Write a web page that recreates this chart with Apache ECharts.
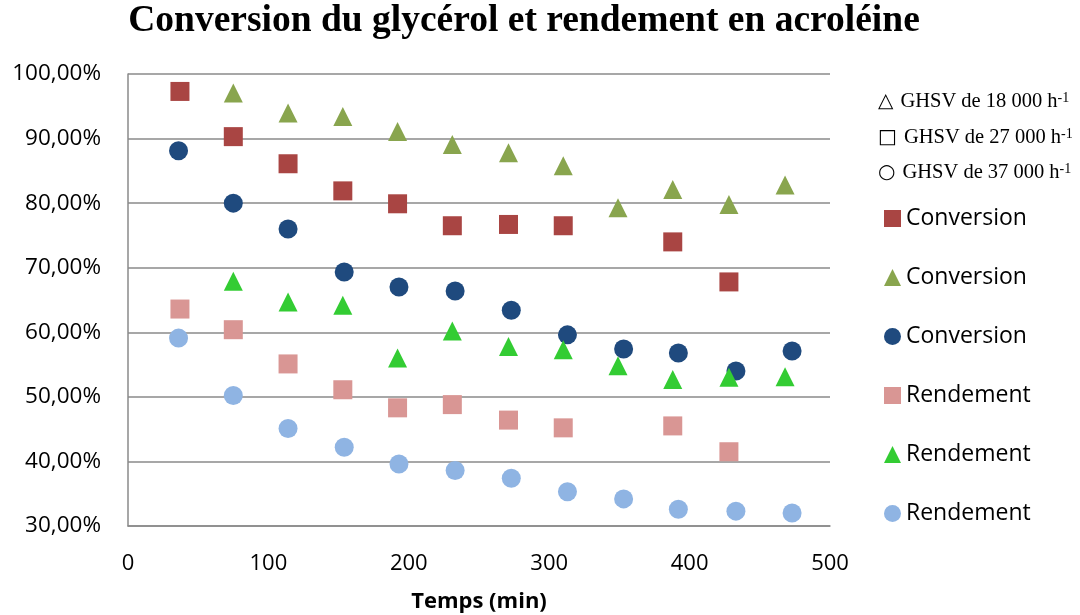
<!DOCTYPE html>
<html>
<head>
<meta charset="utf-8">
<script src="https://cdn.jsdelivr.net/npm/echarts@6/dist/echarts.min.js"></script>
<style>html,body{margin:0;padding:0;background:#fff;}#c{width:1080px;height:615px;}</style>
</head>
<body>
<div id="c"></div>
<script>
// Temps (min) for each data group
const time27 = [37, 75, 114, 153, 192, 231, 271, 310, 388, 428];
const time18 = [75, 114, 153, 192, 231, 271, 310, 349, 388, 428, 468];
const time37 = [36, 75, 114, 154, 193, 233, 273, 313, 353, 392, 433, 473];

// Conversion (%)
const conv27 = [97.3, 90.3, 86.1, 81.9, 79.9, 76.5, 76.7, 76.5, 74.0, 67.8];
const conv18 = [97.05, 93.95, 93.4, 91.1, 89.1, 87.8, 85.8, 79.3, 82.1, 79.8, 82.8];
const conv37 = [88.1, 80.0, 76.0, 69.35, 67.0, 66.4, 63.4, 59.6, 57.4, 56.8, 54.0, 57.1];

// Rendement (%)
const rend27 = [63.6, 60.4, 55.1, 51.1, 48.3, 48.8, 46.4, 45.2, 45.5, 41.5];
const rend18 = [67.9, 64.7, 64.2, 56.0, 60.2, 57.8, 57.3, 54.8, 52.7, 53.05, 53.1];
const rend37 = [59.1, 50.2, 45.1, 42.2, 39.6, 38.6, 37.4, 35.3, 34.2, 32.6, 32.3, 32.0];

const ghsvLabels = ['GHSV de 18 000 h', 'GHSV de 27 000 h', 'GHSV de 37 000 h'];
const ghsvSymbols = ['△', '□', '○'];

const zip = (xs, ys) => xs.map((x, i) => [x, ys[i]]);

const chart = echarts.init(document.getElementById('c'));

function mk(name, xs, ys, symbol, color, size) {
  return {
    name: name, type: 'scatter', symbol: symbol, symbolSize: size,
    itemStyle: { color: color, opacity: 1 },
    data: zip(xs, ys), emphasis: { disabled: true }
  };
}

const graphics = [{
  type: 'text', x: 524, y: 21,
  style: { text: 'Conversion du glycérol et rendement en acroléine', font: 'bold 37.5px "Liberation Serif"', fill: '#000',
    textAlign: 'center', textVerticalAlign: 'middle' }
}];
ghsvLabels.forEach((t, i) => {
  graphics.push({
    type: 'text', x: 878, y: 102 + i * 35.5,
    style: {
      text: '{s|' + ghsvSymbols[i] + '}{t|' + t + '}{u|-1}',
      textVerticalAlign: 'middle',
      rich: {
        s: { fontFamily: 'DejaVu Sans', fontSize: 20, fill: '#000', padding: [0, 7, 0, 0], verticalAlign: 'middle' },
        t: { fontFamily: 'Liberation Serif', fontSize: 20.5, fill: '#000', verticalAlign: 'middle' },
        u: { fontFamily: 'Liberation Serif', fontSize: 14, fill: '#000', verticalAlign: 'top' }
      }
    }
  });
});

chart.setOption({
  animation: false,
  backgroundColor: '#fff',
  grid: { left: 128, right: 250, top: 74, bottom: 89, containLabel: false, outerBoundsMode: 'none' },
  legend: {
    orient: 'vertical', left: 884, top: 207, padding: 0,
    itemWidth: 17, itemHeight: 17, itemGap: 36,
    textStyle: { fontFamily: 'Open Sans', fontSize: 23, color: '#000', padding: [0, 0, 0, 0] },
    formatter: n => n.split(' ')[0],
    selectedMode: false
  },
  xAxis: {
    type: 'value', min: 0, max: 500, interval: 100,
    name: 'Temps (min)', nameLocation: 'middle', nameGap: 65,
    nameTextStyle: { fontFamily: 'Open Sans', fontWeight: 'bold', fontSize: 22, color: '#000' },
    axisLine: { show: true, lineStyle: { color: '#8a8a8a', width: 1.5 } },
    axisTick: { show: false },
    splitLine: { show: false },
    axisLabel: { fontFamily: 'Open Sans', fontSize: 22, color: '#000', margin: 27 }
  },
  yAxis: {
    type: 'value', min: 30, max: 100, interval: 10,
    axisLine: { show: true, lineStyle: { color: '#8a8a8a', width: 1.5 } },
    axisTick: { show: false },
    splitLine: { show: true, lineStyle: { color: '#8a8a8a', width: 1.5 } },
    axisLabel: { fontFamily: 'Open Sans', fontSize: 22.5, color: '#000', margin: 27,
      formatter: v => v.toFixed(2).replace('.', ',') + '%' }
  },
  series: [
    mk('Conversion 27000', time27, conv27, 'rect', '#A94543', 19),
    mk('Conversion 18000', time18, conv18, 'triangle', '#89A54E', 19),
    mk('Conversion 37000', time37, conv37, 'circle', '#1F4A7E', 19),
    mk('Rendement 27000', time27, rend27, 'rect', '#D99694', 19),
    mk('Rendement 18000', time18, rend18, 'triangle', '#33CC33', 19),
    mk('Rendement 37000', time37, rend37, 'circle', '#8FB4E3', 19)
  ],
  graphic: graphics
});
</script>
</body>
</html>
